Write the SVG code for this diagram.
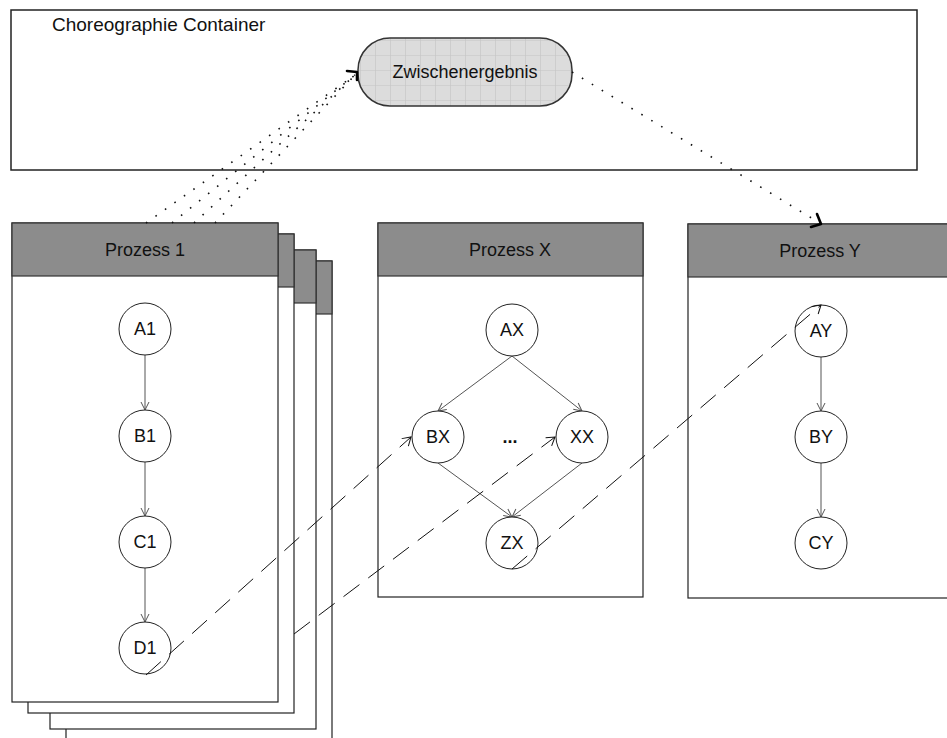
<svg xmlns="http://www.w3.org/2000/svg" width="947" height="738" viewBox="0 0 947 738">
<style>
text{font-family:"Liberation Sans",Arial,sans-serif;font-size:18px;fill:#111;text-anchor:middle}
.page{fill:#fff;stroke:#222;stroke-width:1.2}
.hdr{fill:#8c8c8c;stroke:#333;stroke-width:1.2}
.node{fill:#fff;stroke:#222;stroke-width:1}
.edge{stroke:#555;stroke-width:1;fill:none;marker-end:url(#vee)}
.dash{stroke:#111;stroke-width:1;fill:none;stroke-dasharray:20 11;marker-end:url(#vee2)}
.dot{stroke:#111;stroke-width:1.6;fill:none;stroke-dasharray:1.6 10}
.hook{stroke:#000;stroke-width:2.6;fill:none;stroke-linecap:round;stroke-linejoin:round}
</style>
<defs>
<marker id="vee" markerWidth="10" markerHeight="10" refX="9" refY="5" orient="auto" markerUnits="userSpaceOnUse">
<path d="M1,1 L9,5 L1,9" fill="none" stroke="#555" stroke-width="1"/>
</marker>
<marker id="vee2" markerWidth="12" markerHeight="12" refX="10" refY="6" orient="auto" markerUnits="userSpaceOnUse">
<path d="M2,1 L10,6 L2,11" fill="none" stroke="#111" stroke-width="1"/>
</marker>
<pattern id="grid" patternUnits="userSpaceOnUse" x="0" y="10" width="15" height="15">
<rect width="15" height="15" fill="#dcdcdc"/>
<path d="M0,0 H15 M0,0 V15" stroke="#c4c4c4" stroke-width="1.2"/>
</pattern>
</defs>

<g id="container">
<rect x="11" y="10" width="906" height="160" fill="#fff" stroke="#222" stroke-width="1.5"/>
<text x="52" y="31" style="text-anchor:start;font-size:19px">Choreographie Container</text>
</g>

<g id="zwischenergebnis">
<rect x="358" y="38" width="214" height="68" rx="32" fill="url(#grid)" stroke="#333" stroke-width="1.5"/>
<text x="465" y="78">Zwischenergebnis</text>
</g>

<g id="prozess1-stack">
<rect class="page" x="66" y="261" width="266" height="500"/>
<rect class="hdr" x="66" y="261" width="266" height="53"/>
<rect class="page" x="50" y="250" width="266" height="479"/>
<rect class="hdr" x="50" y="250" width="266" height="53"/>
<rect class="page" x="28" y="234" width="266" height="479"/>
<rect class="hdr" x="28" y="234" width="266" height="53"/>
</g>

<g id="prozess1">
<rect class="page" x="12" y="223" width="266" height="479"/>
<rect class="hdr" x="12" y="223" width="266" height="53"/>
<text x="145" y="256">Prozess 1</text>
</g>

<g id="prozessX">
<rect class="page" x="378" y="223" width="265" height="374"/>
<rect class="hdr" x="378" y="223" width="265" height="53"/>
<text x="510" y="256">Prozess X</text>
</g>

<g id="prozessY">
<rect class="page" x="688" y="224" width="272" height="374"/>
<rect class="hdr" x="688" y="224" width="272" height="53"/>
<text x="820" y="257">Prozess Y</text>
</g>

<g id="connectors">
<line class="edge" x1="145" y1="355" x2="145" y2="410"/>
<line class="edge" x1="145" y1="462" x2="145" y2="516"/>
<line class="edge" x1="145" y1="568" x2="145" y2="622"/>
<line class="edge" x1="512" y1="356" x2="438" y2="411"/>
<line class="edge" x1="512" y1="356" x2="582" y2="411"/>
<line class="edge" x1="438" y1="463" x2="512" y2="517"/>
<line class="edge" x1="582" y1="463" x2="512" y2="517"/>
<line class="edge" x1="821" y1="357" x2="821" y2="411"/>
<line class="edge" x1="821" y1="463" x2="821" y2="517"/>

<line class="dot" x1="146" y1="223" x2="355" y2="75"/>
<line class="dot" x1="172" y1="223" x2="355" y2="75"/>
<line class="dot" x1="194" y1="223" x2="355" y2="75"/>
<line class="dot" x1="215" y1="223" x2="355" y2="75"/>
<path class="hook" d="M347,71 L357,72 L357,80"/>
<line class="dot" x1="572" y1="72" x2="818" y2="222"/>
<path class="hook" d="M817,214 L821,224 L811,227"/>
</g>

<g id="nodes">
<g id="A1"><circle class="node" cx="145" cy="329" r="26"/><text x="145" y="335">A1</text></g>
<g id="B1"><circle class="node" cx="145" cy="436" r="26"/><text x="145" y="442">B1</text></g>
<g id="C1"><circle class="node" cx="145" cy="542" r="26"/><text x="145" y="548">C1</text></g>
<g id="D1"><circle class="node" cx="145" cy="648" r="26"/><text x="145" y="654">D1</text></g>
<g id="AX"><circle class="node" cx="512" cy="330" r="26"/><text x="512" y="336">AX</text></g>
<g id="BX"><circle class="node" cx="438" cy="437" r="26"/><text x="438" y="443">BX</text></g>
<g id="XX"><circle class="node" cx="582" cy="437" r="26"/><text x="582" y="443">XX</text></g>
<g id="dots"><text x="510" y="443" style="font-weight:bold">...</text></g>
<g id="ZX"><circle class="node" cx="512" cy="543" r="26"/><text x="512" y="549">ZX</text></g>
<g id="AY"><circle class="node" cx="821" cy="331" r="26"/><text x="821" y="337">AY</text></g>
<g id="BY"><circle class="node" cx="821" cy="437" r="26"/><text x="821" y="443">BY</text></g>
<g id="CY"><circle class="node" cx="821" cy="543" r="26"/><text x="821" y="549">CY</text></g>
</g>

<g id="dashed-connectors">
<line class="dash" x1="146" y1="675" x2="411" y2="437"/>
<line class="dash" x1="294" y1="634" x2="555" y2="437"/>
<line class="dash" x1="512" y1="569" x2="821" y2="305"/>
</g>
</svg>
